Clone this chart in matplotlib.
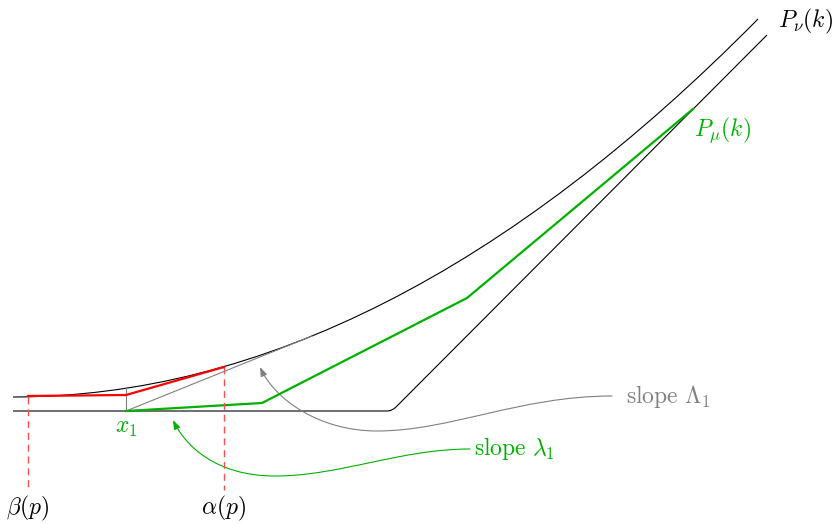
import matplotlib
matplotlib.use("Agg")
import matplotlib.pyplot as plt
from matplotlib.path import Path
from matplotlib.patches import PathPatch, FancyArrowPatch

plt.rcParams["mathtext.fontset"] = "cm"

# picture coordinates (pixels, y pointing down)
x1 = 126
beta_x = 28
alpha_x = 224

# P_nu curve: quadratic bezier (start, control, end)
nu_pts = [(13, 397), (385, 397), (758, 19)]
# lower black line with a rounded corner
low_pts = [(13, 411), (387, 411), (392, 411), (396, 407), (767, 35)]
low_codes = [Path.MOVETO, Path.LINETO, Path.CURVE3, Path.CURVE3, Path.LINETO]

red_x = [28, 126, 224]
red_y = [396, 395, 367]
green_x = [126, 262, 467, 693]
green_y = [411, 403, 298, 109]
tangent_x = [126, 312]
tangent_y = [411, 336]

# annotation arrows (cubic bezier pieces)
gray_arrow = [(612, 396), (520, 396), (450, 431), (377, 431),
              (320, 431), (275, 400), (260, 367)]
green_arrow = [(470, 449), (400, 449), (340, 476), (275, 476),
               (215, 476), (185, 445), (173, 420)]

green = "#00b000"
gray = "#808080"

fig = plt.figure(figsize=(8.38, 5.24), dpi=100)
ax = fig.add_axes([0, 0, 1, 1])
ax.set_xlim(0, 838)
ax.set_ylim(524, 0)
ax.axis("off")

ax.add_patch(PathPatch(Path(nu_pts, [Path.MOVETO, Path.CURVE3, Path.CURVE3]),
                       fill=False, ec="black", lw=0.8))
ax.add_patch(PathPatch(Path(low_pts, low_codes), fill=False, ec="black", lw=0.8))

ax.plot([x1, x1], [388, 411], color=gray, lw=0.8)
ax.plot(tangent_x, tangent_y, color=gray, lw=0.8)
ax.plot(red_x, red_y, color="red", lw=1.6, solid_joinstyle="miter")
ax.plot(green_x, green_y, color=green, lw=1.6, solid_joinstyle="miter")

for xx, yy in [(beta_x, 397), (alpha_x, 367)]:
    ax.plot([xx, xx], [yy, 490], color="#ff5050", lw=1.0, ls=(0, (5, 3.5)))

codes = [Path.MOVETO] + [Path.CURVE4] * 6
style = "-|>,head_length=0.55,head_width=0.2"
ax.add_patch(FancyArrowPatch(path=Path(gray_arrow, codes), arrowstyle=style,
                             mutation_scale=10, color=gray, lw=0.8))
ax.add_patch(FancyArrowPatch(path=Path(green_arrow, codes), arrowstyle=style,
                             mutation_scale=10, color=green, lw=0.8))

fs = 17
ax.text(beta_x, 508, r"$\beta(p)$", fontsize=fs, ha="center", va="center")
ax.text(alpha_x, 508, r"$\alpha(p)$", fontsize=fs, ha="center", va="center")
ax.text(x1, 427, r"$x_1$", fontsize=fs, ha="center", va="center", color=green)
ax.text(778, 21, r"$P_\nu(k)$", fontsize=fs, ha="left", va="center")
ax.text(694, 130, r"$P_\mu(k)$", fontsize=fs, ha="left", va="center", color=green)
ax.text(626, 397, r"$\mathrm{slope}\ \Lambda_1$", fontsize=fs, ha="left",
        va="center", color=gray)
ax.text(474, 449, r"$\mathrm{slope}\ \lambda_1$", fontsize=fs, ha="left",
        va="center", color=green)

fig.savefig("out.png", dpi=100)
